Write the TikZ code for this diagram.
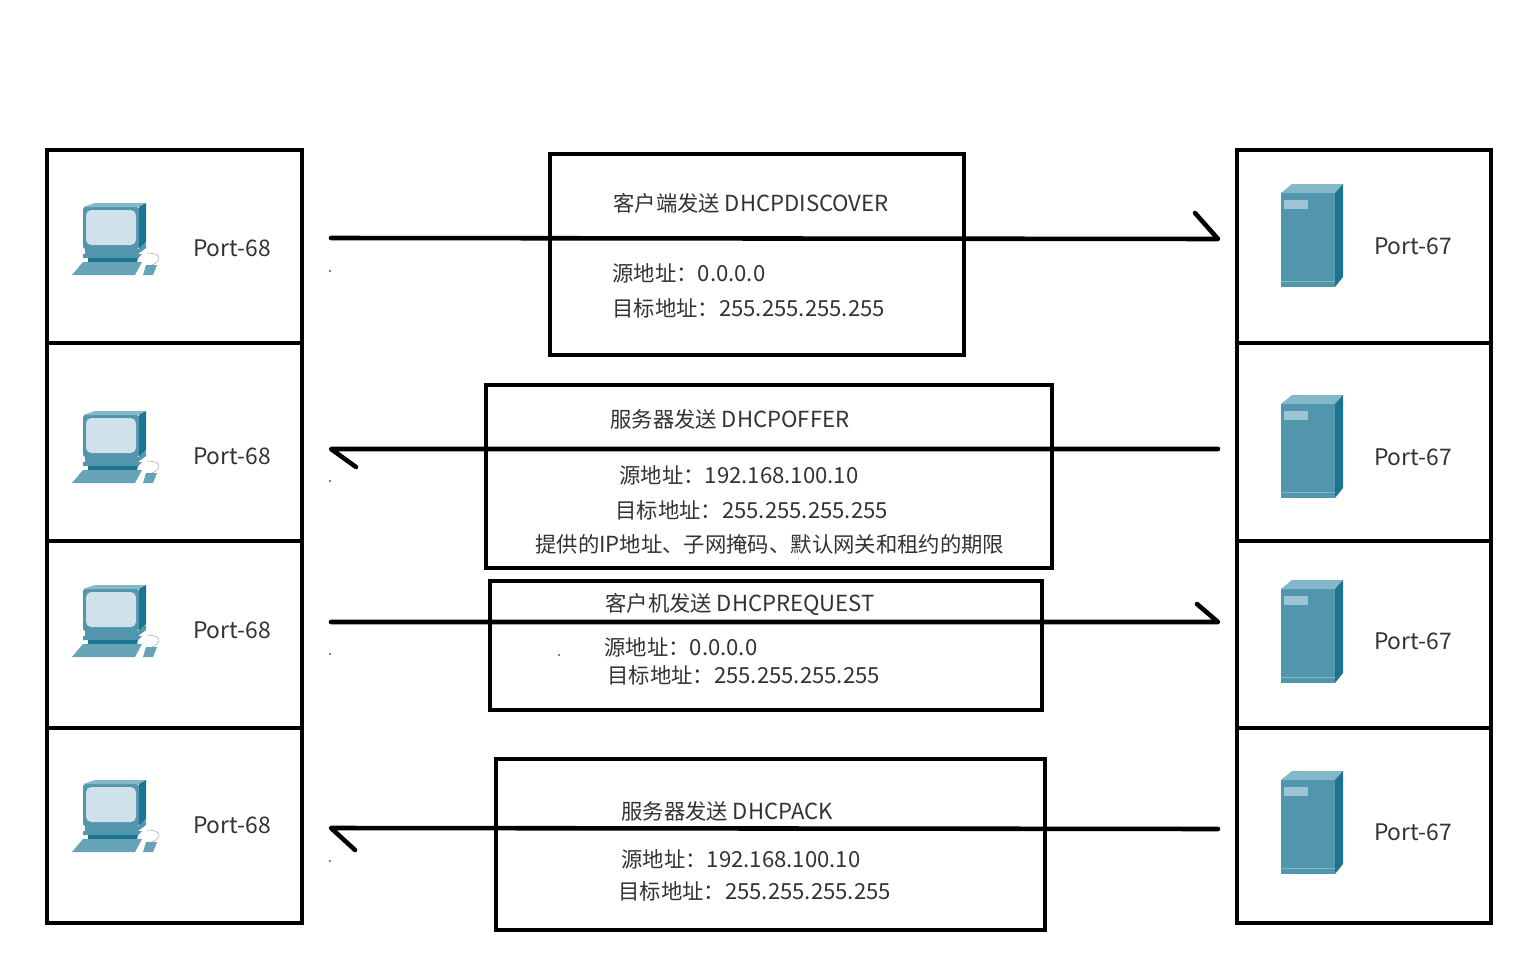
\documentclass[tikz,border=0pt]{standalone}
\usepackage{fontspec}
\setmainfont{Noto Sans CJK SC}[Scale=1]
\definecolor{iconmid}{HTML}{5296AE}
\definecolor{icondark}{HTML}{1B7490}
\definecolor{iconlight}{HTML}{84B7C8}
\definecolor{iconscreen}{HTML}{CFE2EC}
\newcommand{\lat}[1]{{\fontsize{12.6pt}{14pt}\selectfont #1}}
\tikzset{
  frame/.style={line width=2.8pt},
  msg/.style={line width=2.6pt,line cap=round,line join=round},
  txt/.style={anchor=west,inner sep=0pt,text=black!80,font=\fontsize{12.15pt}{14pt}\selectfont},
  port/.style={inner sep=0pt,text=black!80,font=\fontsize{13pt}{14pt}\selectfont},
  pics/pcicon/.style={code={
    \fill[iconmid,rounded corners=1pt] (11,4) rectangle (67,46);
    \fill[iconlight] (11,4) -- (23,0) -- (74,0) -- (67,4) -- cycle;
    \fill[icondark] (67,4) -- (74,0) -- (74,39) -- (67,46) -- cycle;
    \fill[iconscreen,rounded corners=3pt] (14,7) rectangle (64,42);
    \fill[iconmid] (13,46) -- (66,46) -- (74,40) -- (74,45) -- (66,51) -- (13,51) -- cycle;
    \fill[iconmid] (11,51) -- (70,51) -- (66,55) -- (11,55) -- cycle;
    \fill[icondark] (16,55) -- (66,55) -- (65,59) -- (16,59) -- cycle;
    \fill[iconlight!40!iconmid] (0,72) -- (11,59) -- (70,59) -- (63,72) -- cycle;
    \fill[iconlight!40!iconmid] (71,72) -- (74,62) -- (85,62) -- (81,72) -- cycle;
    \draw[black!35,line width=.3pt] (80,62) .. controls (90,58) and (90,50) .. (75,50);
  }},
  pics/servericon/.style={code={
    \fill[iconmid] (1,9) rectangle (55,103);
    \fill[iconlight] (1,9) -- (12,0) -- (63,0) -- (55,9) -- cycle;
    \fill[icondark] (55,9) -- (63,0) -- (63,93) -- (55,103) -- cycle;
    \fill[iconlight!80!white] (4,16) rectangle (28,25);
    \draw[iconlight,line width=.4pt] (1,97) -- (55,97);
  }},
}
\begin{document}
\begin{tikzpicture}[x=.02cm,y=-.02cm]
    \useasboundingbox (0,0) rectangle (1536,960);
    \fill[white] (0,0) rectangle (1536,960);
    % client column
    \draw[frame]
    (47,150) rectangle (302,923)
    (47,343) -- (302,343)
    (47,541) -- (302,541)
    (47,728) -- (302,728)
    ;
    % server column
    \draw[frame]
    (1237,150) rectangle (1491,923)
    (1237,343) -- (1491,343)
    (1237,541) -- (1491,541)
    (1237,728) -- (1491,728)
    ;
    % icons
    \foreach \y/\n in {203/a,411/b,585/c,780/d}
        \pic (pc\n) at (72,\y) {pcicon};
    \foreach \y/\n in {184/a,395/b,580/c,771/d}
        \pic (srv\n) at (1280,\y) {servericon};
    % port labels
    \foreach \y/\n in {248/a,456/b,630/c,825/d}
        \node[port] (portc\n) at (232,\y) {Port-68};
    \foreach \y/\n in {246/a,457/b,641/c,832/d}
        \node[port] (ports\n) at (1413,\y) {Port-67};
    % message frames
    \draw[frame]
    (550,154) rectangle (964,355)
    (486,385) rectangle (1052,568)
    (490,581) rectangle (1042,710)
    (496,759) rectangle (1045,930)
    ;
    % arrows
    \coordinate (ca) at (331,238);
    \coordinate (sa) at (1218,239);
    \coordinate (ha) at (1195,213);
    \coordinate (cb) at (331,449);
    \coordinate (sb) at (1218,449);
    \coordinate (hb) at (356,467);
    \coordinate (cc) at (331,622);
    \coordinate (sc) at (1218,622);
    \coordinate (hc) at (1197,604);
    \coordinate (cd) at (331,828);
    \coordinate (sd) at (1218,829);
    \coordinate (hd) at (355,850);
    \draw[msg] (ca) -- (sa) -- (ha);
    \draw[msg] (sb) -- (cb) -- (hb);
    \draw[msg] (cc) -- (sc) -- (hc);
    \draw[msg] (sd) -- (cd) -- (hd);
    % DHCPDISCOVER
    \node[txt] (da) at (613,203) {客户端发送 \lat{DHCPDISCOVER}};
    \node[txt] (db) at (612,273) {源地址：\lat{0.0.0.0}};
    \node[txt] (dc) at (612,308) {目标地址：\lat{255.255.255.255}};
    % DHCPOFFER
    \node[txt] (oa) at (610,419) {服务器发送 \lat{DHCPOFFER}};
    \node[txt] (ob) at (619,475) {源地址：\lat{192.168.100.10}};
    \node[txt] (oc) at (615,510) {目标地址：\lat{255.255.255.255}};
    \node[txt] (od) at (535,544) {提供的\lat{IP}地址、子网掩码、默认网关和租约的期限};
    % DHCPREQUEST
    \node[txt] (ra) at (605,604) {客户机发送 \lat{DHCPREQUEST}};
    \node[txt] (rb) at (604,647) {源地址：\lat{0.0.0.0}};
    \node[txt] (rc) at (607,675) {目标地址：\lat{255.255.255.255}};
    % DHCPACK
    \node[txt] (pa) at (621,811) {服务器发送 \lat{DHCPACK}};
    \node[txt] (pb) at (621,859) {源地址：\lat{192.168.100.10}};
    \node[txt] (pc) at (618,891) {目标地址：\lat{255.255.255.255}};
    % specks
    \foreach \x/\y in {330/271,330/481,330/654,330/861,559/655}
        \fill (\x,\y) circle (.8);
\end{tikzpicture}
\end{document}
